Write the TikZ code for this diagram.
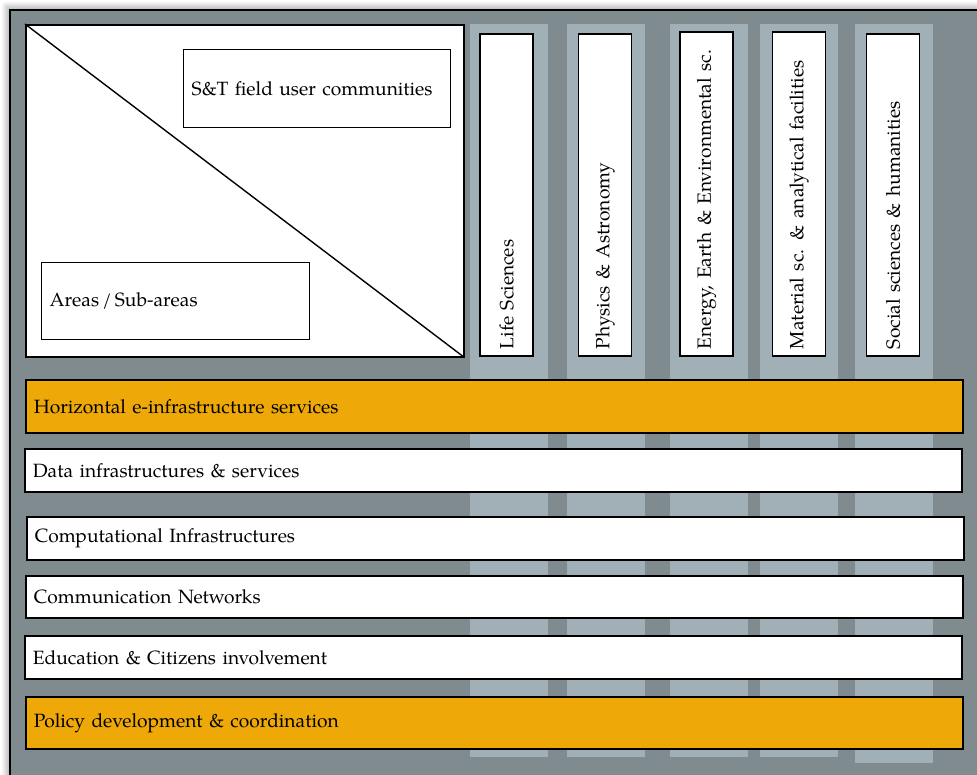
\documentclass[tikz,border=0pt]{standalone}
\usepackage{fontspec}
\setmainfont{TeX Gyre Pagella}
\usetikzlibrary{shadows.blur}
\definecolor{framegray}{RGB}{128,139,143}
\definecolor{colgray}{RGB}{160,176,182}
\definecolor{infraorange}{RGB}{238,169,8}
\begin{document}
\begin{tikzpicture}[x=1pt,y=-1pt,font=\fontsize{19.2}{23}\selectfont]
\tikzset{field/.style={draw,line width=1.5pt,fill=white,rotate=90,
  minimum height=53pt,inner xsep=7pt,text width=308pt,align=left}}
\tikzset{bar/.style={draw,line width=1.6pt,anchor=west,minimum width=937pt,
  inner xsep=8pt,text width=921pt,align=left}}
\tikzset{area/.style={draw,line width=1.4pt,fill=white,anchor=north west,
  inner xsep=8pt,align=left}}
\useasboundingbox (0,0) rectangle (977,774);
% frame and columns
\draw[fill=framegray,line width=1.8pt,
  blur shadow={shadow xshift=-4pt,shadow yshift=4pt,shadow blur radius=5pt,
  shadow blur steps=8,shadow opacity=30}]
  (10,10) rectangle (1000,800);
\foreach \x/\b in {470/757,567/757,670/757,760/757,855/763}
  \fill[colgray] (\x,24) rectangle (\x+78,\b);
% matrix corner
\node[draw,line width=1.6pt,fill=white,anchor=north west,
  minimum width=438pt,minimum height=332pt] (corner) at (25,24) {};
\draw[line width=1.4pt] (corner.north west) -- (corner.south east);
\node[area,text width=251pt,minimum height=78pt] (users) at (183,49) {S\&T field user communities};
\node[area,text width=252pt,minimum height=77pt] (areas) at (41,262) {Areas\,/\,Sub-areas};
% fields
\node[field] (life) at (506.5,195) {Life Sciences};
\node[field] (phys) at (605,195) {Physics \& Astronomy};
\node[field,minimum width=324pt,text width=310pt] (energy) at (706.5,194) {Energy, Earth \& Environmental sc.};
\node[field,minimum width=324pt,text width=310pt] (material) at (799,194) {Material sc. \& analytical facilities};
\node[field] (social) at (893,195) {Social sciences \& humanities};
% layers
\node[bar,fill=infraorange,minimum height=53pt] (horiz) at (25,406.5) {Horizontal e-infrastructure services};
\node[bar,fill=white,minimum height=43pt] (data) at (24,470.5) {Data infrastructures \& services};
\node[bar,fill=white,minimum height=43pt] (comp) at (26,538.5) {Computational Infrastructures};
\node[bar,fill=white,minimum height=42pt] (comm) at (25,597) {Communication Networks};
\node[bar,fill=white,minimum height=43pt] (edu) at (24,657.5) {Education \& Citizens involvement};
\node[bar,fill=infraorange,minimum height=52pt] (policy) at (25,723) {Policy development \& coordination};
\end{tikzpicture}
\end{document}
